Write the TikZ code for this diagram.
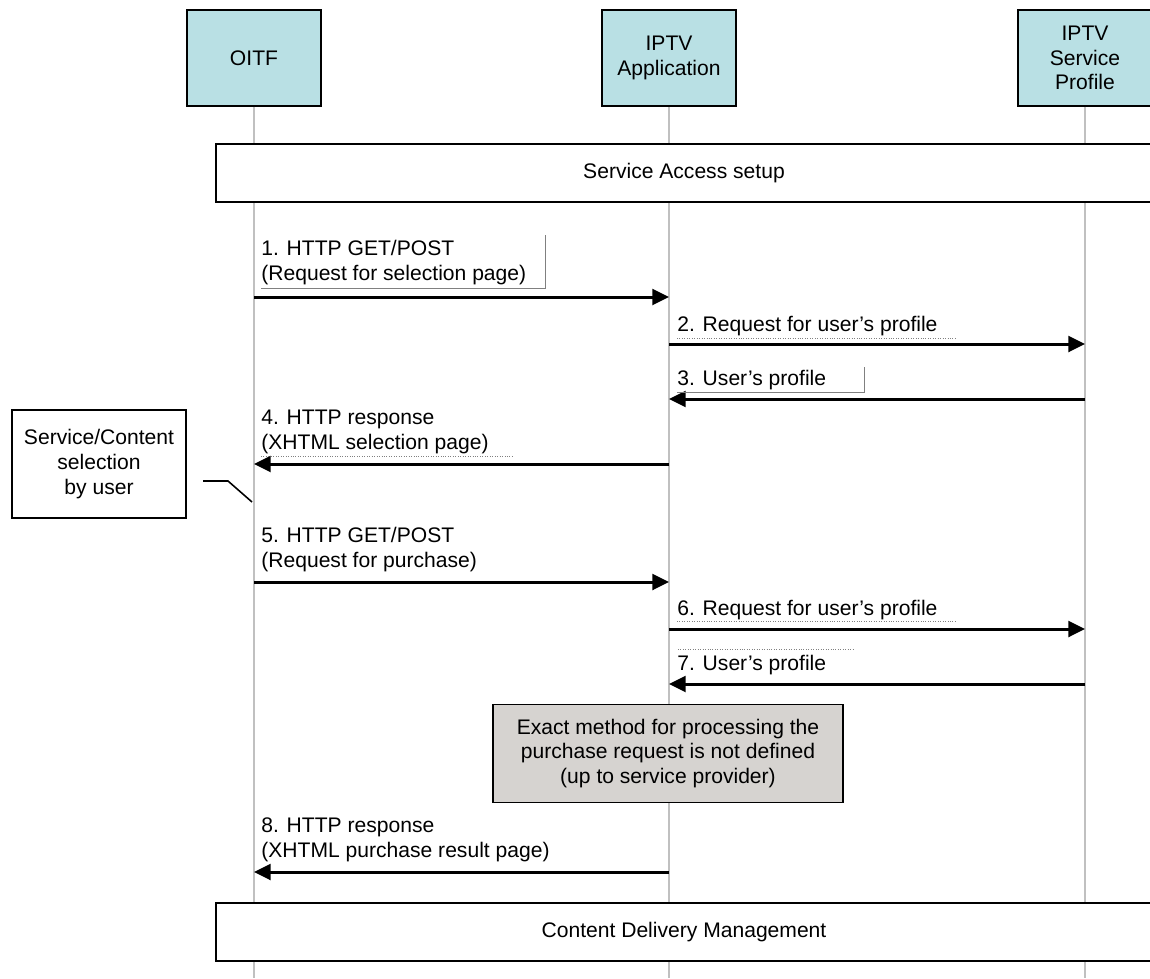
\documentclass[tikz,border=0pt]{standalone}
\usepackage{fontspec}
\setmainfont{Liberation Sans}
\usetikzlibrary{arrows.meta}
\definecolor{actorfill}{RGB}{185,224,228}
\definecolor{procfill}{RGB}{214,211,208}
\definecolor{lifegray}{RGB}{192,192,192}

\begin{document}
\begin{tikzpicture}[x=0.02cm, y=-0.02cm,
    every node/.style={font=\fontsize{12}{14}\selectfont},
    actor/.style={draw=black, line width=1pt, fill=actorfill, minimum width=2.68cm, minimum height=1.92cm, align=center},
    phase/.style={draw=black, line width=1pt, fill=white, minimum width=18.72cm, minimum height=1.16cm},
    lifeline/.style={draw=lifegray, line width=1.1pt},
    msg/.style={line width=1.7pt, -{Triangle[length=9.5pt,width=9pt]}},
    lbl/.style={anchor=south west, inner sep=0pt, align=left},
    tick/.style={draw=gray, line width=0.4pt},
    dots/.style={draw=gray, line width=0.4pt, densely dotted}]
    \useasboundingbox (0,0) rectangle (1150,978);
    \clip (0,0) rectangle (1150,978);
    % The three parties on top.
        \node[actor] (oitf) at (254,58) {OITF};
        \node[actor] (app) at (669,58) {IPTV\\Application};
        \node[actor] (prof) at (1085,58) {IPTV\\Service\\Profile};
    % Lifelines, they run off the bottom edge.
        \coordinate (bottom) at (0,978);
        \draw[lifeline] (oitf.south) -- (oitf.south |- bottom);
        \draw[lifeline] (app.south) -- (app.south |- bottom);
        \draw[lifeline] (prof.south) -- (prof.south |- bottom);
    % Wide boxes across all lifelines (cut off at the right).
        \node[phase] (access) at (684,173) {Service Access setup};
        \node[phase] (delivery) at (684,932) {Content Delivery Management};
    % Points on the lifelines where messages start and end.
        \coordinate (o1) at (oitf |- 0,297);  \coordinate (a1) at (app |- 0,297);
        \coordinate (a2) at (app |- 0,344);   \coordinate (p2) at (prof |- 0,344);
        \coordinate (p3) at (prof |- 0,399);  \coordinate (a3) at (app |- 0,399);
        \coordinate (a4) at (app |- 0,464);   \coordinate (o4) at (oitf |- 0,464);
        \coordinate (o5) at (oitf |- 0,582);  \coordinate (a5) at (app |- 0,582);
        \coordinate (a6) at (app |- 0,629);   \coordinate (p6) at (prof |- 0,629);
        \coordinate (p7) at (prof |- 0,684);  \coordinate (a7) at (app |- 0,684);
        \coordinate (a8) at (app |- 0,872);   \coordinate (o8) at (oitf |- 0,872);
    % Messages.
        \draw[msg] (o1) -- (a1);
        \draw[msg] (a2) -- (p2);
        \draw[msg] (p3) -- (a3);
        \draw[msg] (a4) -- (o4);
        \draw[msg] (o5) -- (a5);
        \draw[msg] (a6) -- (p6);
        \draw[msg] (p7) -- (a7);
        \draw[msg] (a8) -- (o8);
    % Below nodes are the message labels.
        \node[lbl] (m1) at (261,285) {1. HTTP GET/POST\\(Request for selection page)};
        \node[lbl] (m2) at (677,336) {2. Request for user's profile};
        \node[lbl] (m3) at (677,390) {3. User's profile};
        \node[lbl] (m4) at (261,454) {4. HTTP response\\(XHTML selection page)};
        \node[lbl] (m5) at (261,572) {5. HTTP GET/POST\\(Request for purchase)};
        \node[lbl] (m6) at (677,620) {6. Request for user's profile};
        \node[lbl] (m7) at (677,675) {7. User's profile};
        \node[lbl] (m8) at (261,862) {8. HTTP response\\(XHTML purchase result page)};
    % Thin lines left around some of the labels.
        \draw[tick] (261,288) -- (545,288) -- (545,235);
        \draw[dots] (677,338) -- (955,338);
        \draw[tick] (677,392) -- (864,392) -- (864,367);
        \draw[dots] (261,456) -- (512,456);
        \draw[dots] (677,621) -- (957,621);
        \draw[dots] (678,649) -- (855,649);
    % The grey box on the application lifeline.
        \node[draw=black, line width=1pt, fill=procfill, minimum width=7cm, minimum height=1.96cm, align=center] (proc) at (668,753.5)
            {Exact method for processing the\\purchase request is not defined\\(up to service provider)};
    % Note on the left with its bent pointer.
        \node[draw=black, line width=1pt, fill=white, minimum width=3.48cm, minimum height=2.16cm, align=center] (sel) at (99,464)
            {Service/Content\\selection\\by user};
        \coordinate (selA) at (203,481);
        \coordinate (selB) at (228,481);
        \coordinate (selC) at (252,502);
        \draw[line width=0.9pt] (selA) -- (selB) -- (selC);
\end{tikzpicture}
\end{document}
